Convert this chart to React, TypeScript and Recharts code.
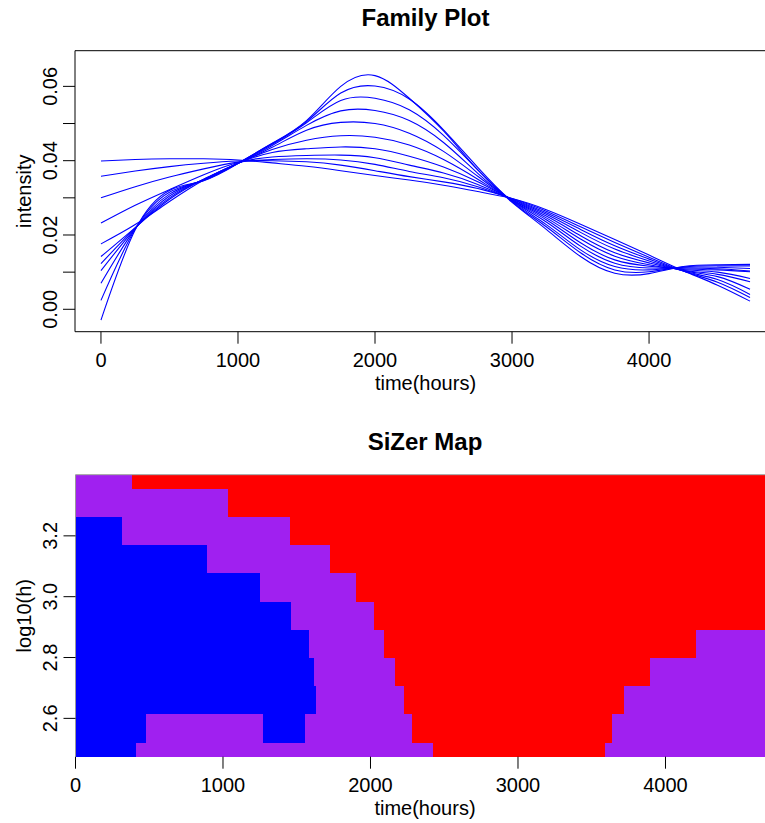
import React from 'react';
import { ComposedChart, Line, XAxis, YAxis, ReferenceArea, ReferenceLine } from 'recharts';

// ---------- Family plot data (time in hours) ----------
const times = [0, 250, 500, 750, 1000, 1250, 1500, 1750, 2000, 2250, 2500, 2750, 3000, 3250, 3500, 3750, 4000, 4250, 4500, 4737];
// from largest bandwidth (smoothest) to smallest bandwidth (wiggliest)
const fam01 = [0.0399, 0.0403, 0.0405, 0.0405, 0.0402, 0.0394, 0.0385, 0.0373, 0.0360, 0.0348, 0.0334, 0.0317, 0.0298, 0.0268, 0.0229, 0.0188, 0.0146, 0.0104, 0.0065, 0.0022];
const fam02 = [0.0358, 0.0372, 0.0384, 0.0393, 0.0399, 0.0400, 0.0397, 0.0388, 0.0373, 0.0357, 0.0343, 0.0325, 0.0298, 0.0264, 0.0222, 0.0180, 0.0140, 0.0103, 0.0073, 0.0032];
const fam03 = [0.0300, 0.0330, 0.0356, 0.0378, 0.0396, 0.0403, 0.0405, 0.0402, 0.0390, 0.0371, 0.0354, 0.0330, 0.0297, 0.0260, 0.0215, 0.0171, 0.0135, 0.0103, 0.0080, 0.0040];
const fam04 = [0.0232, 0.0280, 0.0322, 0.0362, 0.0395, 0.0410, 0.0414, 0.0415, 0.0408, 0.0388, 0.0367, 0.0336, 0.0296, 0.0256, 0.0207, 0.0162, 0.0130, 0.0104, 0.0088, 0.0054];
const fam05 = [0.0176, 0.0228, 0.0290, 0.0348, 0.0393, 0.0422, 0.0432, 0.0437, 0.0432, 0.0412, 0.0383, 0.0343, 0.0295, 0.0251, 0.0198, 0.0152, 0.0125, 0.0105, 0.0094, 0.0074];
const fam06 = [0.0142, 0.0220, 0.0296, 0.0350, 0.0393, 0.0430, 0.0455, 0.0467, 0.0463, 0.0442, 0.0403, 0.0350, 0.0294, 0.0246, 0.0189, 0.0143, 0.0120, 0.0107, 0.0100, 0.0083];
const fam07 = [0.0123, 0.0219, 0.0300, 0.0350, 0.0393, 0.0436, 0.0482, 0.0503, 0.0500, 0.0474, 0.0425, 0.0358, 0.0293, 0.0241, 0.0179, 0.0133, 0.0116, 0.0109, 0.0106, 0.0101];
const fam08 = [0.0104, 0.0218, 0.0305, 0.0349, 0.0393, 0.0441, 0.0495, 0.0534, 0.0535, 0.0508, 0.0449, 0.0366, 0.0292, 0.0235, 0.0170, 0.0124, 0.0111, 0.0111, 0.0109, 0.0103];
const fam09 = [0.0070, 0.0217, 0.0310, 0.0348, 0.0393, 0.0444, 0.0502, 0.0562, 0.0568, 0.0537, 0.0468, 0.0375, 0.0291, 0.0228, 0.0160, 0.0115, 0.0106, 0.0113, 0.0113, 0.0110];
const fam10 = [0.0024, 0.0216, 0.0315, 0.0347, 0.0393, 0.0446, 0.0505, 0.0582, 0.0601, 0.0566, 0.0483, 0.0382, 0.0290, 0.0222, 0.0152, 0.0106, 0.0101, 0.0114, 0.0117, 0.0117];
const fam11 = [-0.0029, 0.0214, 0.0320, 0.0346, 0.0392, 0.0447, 0.0508, 0.0600, 0.0629, 0.0568, 0.0480, 0.0375, 0.0288, 0.0215, 0.0142, 0.0097, 0.0096, 0.0115, 0.0120, 0.0121];

const familySeries = [fam01, fam02, fam03, fam04, fam05, fam06, fam07, fam08, fam09, fam10, fam11];
const familyKeys = familySeries.map((_, i) => `f${i + 1}`);
const familyData = times.map((t, i) => {
  const row: Record<string, number> = { t };
  familySeries.forEach((s, k) => { row[familyKeys[k]] = s[i]; });
  return row;
});

const timeTicks = [0, 1000, 2000, 3000, 4000];
const intensityTicks = [0, 0.01, 0.02, 0.03, 0.04, 0.05, 0.06];
const log10hTicks = [2.6, 2.8, 3.0, 3.2];

// ---------- SiZer map ----------
// log10(h) of each row (bottom to top)
const sizerLog10h = [2.474, 2.5667, 2.6594, 2.7521, 2.8448, 2.9375, 3.0302, 3.1229, 3.2156, 3.3083, 3.401];
// each row: [segment end time, class]
const sizerRow01: [number, string][] = [[410, 'inc'], [2426, 'ns'], [3592, 'dec'], [4737, 'ns']];
const sizerRow02: [number, string][] = [[478, 'inc'], [1271, 'ns'], [1556, 'inc'], [2281, 'ns'], [3637, 'dec'], [4737, 'ns']];
const sizerRow03: [number, string][] = [[1630, 'inc'], [2227, 'ns'], [3721, 'dec'], [4737, 'ns']];
const sizerRow04: [number, string][] = [[1617, 'inc'], [2166, 'ns'], [3895, 'dec'], [4737, 'ns']];
const sizerRow05: [number, string][] = [[1583, 'inc'], [2091, 'ns'], [4207, 'dec'], [4737, 'ns']];
const sizerRow06: [number, string][] = [[1461, 'inc'], [2024, 'ns'], [4737, 'dec']];
const sizerRow07: [number, string][] = [[1251, 'inc'], [1902, 'ns'], [4737, 'dec']];
const sizerRow08: [number, string][] = [[892, 'inc'], [1725, 'ns'], [4737, 'dec']];
const sizerRow09: [number, string][] = [[315, 'inc'], [1454, 'ns'], [4737, 'dec']];
const sizerRow10: [number, string][] = [[1034, 'ns'], [4737, 'dec']];
const sizerRow11: [number, string][] = [[383, 'ns'], [4737, 'dec']];
const sizerRows = [sizerRow01, sizerRow02, sizerRow03, sizerRow04, sizerRow05, sizerRow06, sizerRow07, sizerRow08, sizerRow09, sizerRow10, sizerRow11];
const classColors: Record<string, string> = { inc: '#0000FF', ns: '#A020F0', dec: '#FF0000' };

const SIZER_T = [0, 4737];
const SIZER_H = [2.474, 3.401];
const halfStep = (SIZER_H[1] - SIZER_H[0]) / (sizerLog10h.length - 1) / 2;

const sizerCells: { x1: number; x2: number; y1: number; y2: number; fill: string }[] = [];
sizerRows.forEach((row, r) => {
  let start = SIZER_T[0];
  const yc = sizerLog10h[r];
  const y1 = Math.max(SIZER_H[0], yc - halfStep);
  const y2 = Math.min(SIZER_H[1], yc + halfStep);
  row.forEach(([end, cls]) => {
    sizerCells.push({ x1: start, x2: Math.min(end, SIZER_T[1]), y1, y2, fill: classColors[cls] });
    start = end;
  });
});
const sizerAnchor = sizerLog10h.map((h) => ({ t: 0, h }));

const FONT = '"Liberation Sans", Arial, Helvetica, sans-serif';
const TOP_X = [-189.5, 4926.5];
const TOP_Y = [-0.00603, 0.0696];

const makeRotTick = (fmt: (v: number) => string | null) => (props: any) => {
  const { y, payload } = props;
  const label = fmt(payload.value);
  if (label === null) return <g />;
  const bx = 57;
  return (
    <text x={bx} y={y} transform={`rotate(-90, ${bx}, ${y})`} textAnchor="middle" fontSize={20} fontFamily={FONT} fill="#000">
      {label}
    </text>
  );
};

const intensityTick = makeRotTick((v) => (Math.round(v * 100) % 2 === 0 ? v.toFixed(2) : null));
const log10hTick = makeRotTick((v) => v.toFixed(1));

const cellShape = (fill: string) => (p: any) => (
  <rect x={p.x} y={p.y} width={p.width} height={p.height} fill={fill} stroke="none" shapeRendering="crispEdges" />
);

export default function App() {
  return (
    <div style={{ position: 'fixed', left: 0, top: 0, width: 765, height: 823, overflow: 'hidden', background: '#fff' }}>
      <div style={{ position: 'absolute', left: 0, top: 0 }}>
        <ComposedChart width={800} height={400} data={familyData} margin={{ top: 50.7, right: 24, bottom: 0, left: 0 }}>
          <XAxis
            type="number"
            dataKey="t"
            domain={TOP_X}
            allowDataOverflow
            ticks={timeTicks}
            interval={0}
            tickSize={12}
            tickMargin={9}
            axisLine={false}
            tickLine={{ stroke: '#000' }}
            tick={{ fill: '#000', fontSize: 20, fontFamily: FONT }}
            height={68.3}
          />
          <YAxis
            type="number"
            domain={TOP_Y}
            allowDataOverflow
            ticks={intensityTicks}
            interval={0}
            tickSize={12}
            axisLine={false}
            tickLine={{ stroke: '#000' }}
            tick={intensityTick}
            width={75}
          />
          <ReferenceArea x1={TOP_X[0]} x2={TOP_X[1]} y1={TOP_Y[0]} y2={TOP_Y[1]} fill="none" fillOpacity={0} stroke="#000" strokeWidth={1} ifOverflow="visible" />
          {familyKeys.map((k) => (
            <Line key={k} dataKey={k} type="natural" stroke="#0000FF" strokeWidth={1.1} dot={false} activeDot={false} isAnimationActive={false} />
          ))}
        </ComposedChart>
      </div>
      <div style={{ position: 'absolute', left: 0, top: 0 }}>
        <ComposedChart width={800} height={823} data={sizerAnchor} margin={{ top: 474.7, right: 25.8, bottom: 0, left: 0 }}>
          <XAxis
            type="number"
            dataKey="t"
            domain={SIZER_T}
            allowDataOverflow
            ticks={timeTicks}
            interval={0}
            tickSize={12}
            tickMargin={9}
            axisLine={false}
            tickLine={{ stroke: '#000' }}
            tick={{ fill: '#000', fontSize: 20, fontFamily: FONT }}
            height={66.3}
          />
          <YAxis
            type="number"
            dataKey="h"
            domain={SIZER_H}
            allowDataOverflow
            ticks={log10hTicks}
            interval={0}
            tickSize={12}
            axisLine={false}
            tickLine={{ stroke: '#000' }}
            tick={log10hTick}
            width={75.5}
          />
          {sizerCells.map((c, i) => (
            <ReferenceArea key={i} x1={c.x1} x2={c.x2} y1={c.y1} y2={c.y2} fill={c.fill} fillOpacity={1} ifOverflow="hidden" shape={cellShape(c.fill)} />
          ))}
          <ReferenceLine y={SIZER_H[1]} stroke="#999" strokeWidth={1} ifOverflow="visible" />
          <ReferenceLine x={SIZER_T[0]} stroke="#999" strokeWidth={1} ifOverflow="visible" />
        </ComposedChart>
      </div>
      <svg width={765} height={823} style={{ position: 'absolute', left: 0, top: 0, pointerEvents: 'none' }}>
        <g fontFamily={FONT} fill="#000">
          <text x={425.5} y={26} textAnchor="middle" fontSize={24} fontWeight="bold">Family Plot</text>
          <text x={425.5} y={390} textAnchor="middle" fontSize={20}>time(hours)</text>
          <text x={31.5} y={191.2} textAnchor="middle" fontSize={20} transform="rotate(-90, 31.5, 191.2)">intensity</text>
          <text x={425} y={450} textAnchor="middle" fontSize={24} fontWeight="bold">SiZer Map</text>
          <text x={425} y={815} textAnchor="middle" fontSize={20}>time(hours)</text>
          <text x={31.5} y={615.7} textAnchor="middle" fontSize={20} transform="rotate(-90, 31.5, 615.7)">log10(h)</text>
        </g>
      </svg>
    </div>
  );
}
